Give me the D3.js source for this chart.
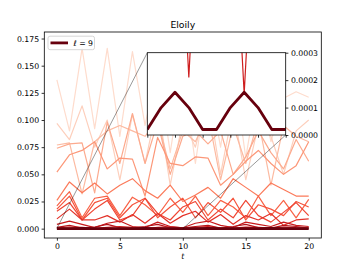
<!DOCTYPE html>
<html>
  <head>
    <style>
      body { margin: 0; background: #fff; }
      text { font-family: "DejaVu Sans", sans-serif; }
    </style>
    <script src="https://unpkg.com/d3@7/dist/d3.min.js"></script>
  </head>
  <body>
    <script>
      // time steps
      const tValues = d3.range(0, 21);

      // one array per series, light (top) to dark (bottom)
      const s0 = [0.137,0.090,0.166,0.092,0.166,0.085,0.163,0.095,0.150,0.070,0.145,0.060,0.140,0.075,0.150,0.065,0.135,0.080,0.120,0.126,0.121];
      const s1 = [0.097,0.082,0.113,0.075,0.100,0.045,0.105,0.060,0.115,0.040,0.100,0.075,0.120,0.050,0.110,0.045,0.095,0.085,0.050,0.090,0.100];
      const s2 = [0.077,0.079,0.032,0.080,0.090,0.095,0.090,0.085,0.100,0.055,0.090,0.080,0.105,0.045,0.095,0.060,0.100,0.040,0.095,0.085,0.080];
      const s3 = [0.074,0.078,0.079,0.033,0.098,0.060,0.106,0.060,0.098,0.050,0.085,0.090,0.078,0.090,0.050,0.066,0.090,0.070,0.055,0.082,0.062];
      const s4 = [0.052,0.068,0.072,0.080,0.055,0.065,0.064,0.030,0.084,0.060,0.058,0.066,0.065,0.040,0.050,0.062,0.072,0.060,0.050,0.058,0.080];
      const s5 = [0.026,0.043,0.033,0.042,0.032,0.040,0.046,0.035,0.028,0.040,0.025,0.031,0.038,0.028,0.046,0.038,0.030,0.042,0.036,0.030,0.030];
      const s6 = [0.021,0.034,0.010,0.028,0.030,0.012,0.029,0.022,0.012,0.028,0.015,0.030,0.012,0.026,0.020,0.010,0.030,0.012,0.026,0.010,0.027];
      const s7 = [0.018,0.030,0.008,0.024,0.028,0.010,0.022,0.028,0.010,0.020,0.028,0.010,0.024,0.015,0.028,0.008,0.022,0.018,0.012,0.025,0.020];
      const s8 = [0.016,0.024,0.008,0.018,0.026,0.008,0.012,0.028,0.014,0.008,0.020,0.025,0.008,0.018,0.010,0.026,0.012,0.006,0.015,0.024,0.012];
      const s9 = [0.009,0.018,0.008,0.008,0.012,0.006,0.013,0.005,0.014,0.005,0.012,0.016,0.006,0.013,0.004,0.012,0.008,0.014,0.003,0.008,0.009];
      const s10 = [0.004,0.007,0.004,0.001,0.005,0.007,0.002,0.001,0.006,0.002,0.0008,0.005,0.007,0.003,0.001,0.006,0.004,0.002,0.006,0.003,0.002];
      const s11 = [0.0012,0.003,0.0006,0.0015,0.004,0.001,0.0006,0.002,0.004,0.0008,0.0005,0.002,0.003,0.0005,0.002,0.004,0.001,0.0005,0.003,0.002,0.0005];
      const s12 = [0.0008,0.0015,0.0012,0.00021,0.0012,0.0018,0.0011,0.00015,0.0011,0.0016,0.0007,0.0012,0.0018,0.0006,0.0004,0.0014,0.0011,0.0005,0.0015,0.0009,0.0006];
      const l9 = [0.00002,0.0001,0.000156,0.0001,0.00002,0.00002,0.0001,0.000156,0.0001,0.00002,0.00002,0.0001,0.000156,0.0001,0.00002,0.00002,0.0001,0.000156,0.0001,0.00002,0.00002];

      const seriesList = [s0, s1, s2, s3, s4, s5, s6, s7, s8, s9, s10, s11, s12];
      // position in the Reds colormap for each series
      const shades = [0.13, 0.18, 0.25, 0.3, 0.36, 0.45, 0.52, 0.56, 0.6, 0.66, 0.76, 0.82, 0.74];

      const mainTicksX = [0, 5, 10, 15, 20];
      const mainTicksY = [0, 0.025, 0.05, 0.075, 0.1, 0.125, 0.15, 0.175];
      const insetTicksX = [0, 2, 4, 6, 8, 10];
      const insetTicksY = [0, 0.0001, 0.0002, 0.0003];

      const width = 357, height = 268;
      const fs = 7.75;
      const darkRed = '#67000d';

      const svg = d3.select('body').append('svg')
        .attr('width', width).attr('height', height);

      const m = {left: 44.3, right: 321.3, top: 32, bottom: 238};
      const x = d3.scaleLinear().domain([-1, 21]).range([m.left, m.right]);
      const y = d3.scaleLinear().domain([-0.0086, 0.181]).range([m.bottom, m.top]);

      svg.append('clipPath').attr('id', 'mainClip').append('rect')
        .attr('x', m.left).attr('y', m.top)
        .attr('width', m.right - m.left).attr('height', m.bottom - m.top);

      const line = d3.line().x((d, i) => x(tValues[i])).y(d => y(d));

      const gMain = svg.append('g').attr('clip-path', 'url(#mainClip)');
      seriesList.forEach((s, k) => {
        gMain.append('path').datum(s)
          .attr('d', line)
          .attr('fill', 'none')
          .attr('stroke', d3.interpolateReds(shades[k]))
          .attr('stroke-width', 1.2)
          .attr('stroke-linejoin', 'round');
      });
      gMain.append('path').datum(l9)
        .attr('d', line)
        .attr('fill', 'none')
        .attr('stroke', darkRed)
        .attr('stroke-width', 2.8)
        .attr('stroke-linejoin', 'round');

      // axes
      const xAxis = d3.axisBottom(x).tickValues(mainTicksX).tickSize(2.7).tickPadding(2.5).tickFormat(d3.format('d'));
      const yAxis = d3.axisLeft(y).tickValues(mainTicksY).tickSize(2.7).tickPadding(2.5).tickFormat(d3.format('.3f'));
      svg.append('g').attr('transform', `translate(0,${m.bottom})`).call(xAxis);
      svg.append('g').attr('transform', `translate(${m.left},0)`).call(yAxis);

      svg.append('rect')
        .attr('x', m.left).attr('y', m.top)
        .attr('width', m.right - m.left).attr('height', m.bottom - m.top)
        .attr('fill', 'none').attr('stroke', '#000').attr('stroke-width', 0.8);

      svg.selectAll('.tick text').attr('font-size', fs).attr('font-family', 'DejaVu Sans').attr('fill', '#000');
      svg.selectAll('.domain').remove();
      svg.selectAll('.tick line').attr('stroke', '#000').attr('stroke-width', 0.8);

      // title and x label
      svg.append('text').attr('x', (m.left + m.right) / 2).attr('y', 27.5)
        .attr('text-anchor', 'middle').attr('font-size', 9.3).text('Eloily');
      svg.append('text').attr('x', (m.left + m.right) / 2).attr('y', 258.5)
        .attr('text-anchor', 'middle').attr('font-size', fs).attr('font-style', 'italic').text('t');

      // inset
      const ins = {left: 147.3, right: 285.7, top: 52.7, bottom: 135};
      const xi = d3.scaleLinear().domain([0, 10]).range([ins.left, ins.right]);
      const yi = d3.scaleLinear().domain([0, 0.0003]).range([ins.bottom, ins.top]);

      // connector lines to the zoomed region
      svg.append('line')
        .attr('x1', x(0)).attr('y1', y(0.0003)).attr('x2', ins.left).attr('y2', ins.top)
        .attr('stroke', '#000').attr('stroke-opacity', 0.5).attr('stroke-width', 0.8);
      svg.append('line')
        .attr('x1', x(10)).attr('y1', y(0)).attr('x2', ins.right).attr('y2', ins.bottom)
        .attr('stroke', '#000').attr('stroke-opacity', 0.5).attr('stroke-width', 0.8);

      svg.append('rect')
        .attr('x', ins.left).attr('y', ins.top)
        .attr('width', ins.right - ins.left).attr('height', ins.bottom - ins.top)
        .attr('fill', '#fff');

      svg.append('clipPath').attr('id', 'insetClip').append('rect')
        .attr('x', ins.left).attr('y', ins.top)
        .attr('width', ins.right - ins.left).attr('height', ins.bottom - ins.top);

      const lineI = d3.line().x((d, i) => xi(tValues[i])).y(d => yi(d));
      const gIns = svg.append('g').attr('clip-path', 'url(#insetClip)');
      seriesList.forEach((s, k) => {
        gIns.append('path').datum(s)
          .attr('d', lineI)
          .attr('fill', 'none')
          .attr('stroke', d3.interpolateReds(shades[k]))
          .attr('stroke-width', 1.2);
      });
      gIns.append('path').datum(l9)
        .attr('d', lineI)
        .attr('fill', 'none')
        .attr('stroke', darkRed)
        .attr('stroke-width', 2.8)
        .attr('stroke-linejoin', 'round');

      const xAxisI = d3.axisBottom(xi).tickValues(insetTicksX).tickSize(2.7).tickFormat('');
      const yAxisI = d3.axisRight(yi).tickValues(insetTicksY).tickSize(2.7).tickPadding(2.5).tickFormat(d3.format('.4f'));
      const gxi = svg.append('g').attr('transform', `translate(0,${ins.bottom})`).call(xAxisI);
      const gyi = svg.append('g').attr('transform', `translate(${ins.right},0)`).call(yAxisI);
      [gxi, gyi].forEach(g => {
        g.select('.domain').remove();
        g.selectAll('.tick line').attr('stroke', '#000').attr('stroke-width', 0.8);
        g.selectAll('.tick text').attr('font-size', fs).attr('font-family', 'DejaVu Sans').attr('fill', '#000');
      });

      svg.append('rect')
        .attr('x', ins.left).attr('y', ins.top)
        .attr('width', ins.right - ins.left).attr('height', ins.bottom - ins.top)
        .attr('fill', 'none').attr('stroke', '#000').attr('stroke-width', 0.8);

      // legend
      const lg = svg.append('g');
      lg.append('rect').attr('x', 48).attr('y', 36.2).attr('width', 46.5).attr('height', 13.5)
        .attr('rx', 2).attr('fill', '#fff').attr('fill-opacity', 0.8)
        .attr('stroke', '#ccc').attr('stroke-width', 0.8);
      lg.append('line').attr('x1', 50.5).attr('x2', 68).attr('y1', 42.9).attr('y2', 42.9)
        .attr('stroke', darkRed).attr('stroke-width', 2.8);
      const lt = lg.append('text').attr('x', 73.5).attr('y', 45.8).attr('font-size', fs);
      lt.append('tspan').attr('font-style', 'italic').text('ℓ');
      lt.append('tspan').text(' = 9');
    </script>
  </body>
</html>
